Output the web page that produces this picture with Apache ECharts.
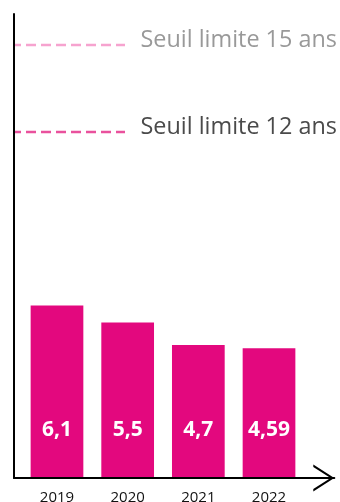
<!DOCTYPE html>
<html>
<head>
<meta charset="utf-8">
<script src="https://cdn.jsdelivr.net/npm/echarts@6/dist/echarts.min.js"></script>
<style>
  html, body { margin: 0; padding: 0; background: #fff; }
  #chart { width: 340px; height: 502px; }
</style>
</head>
<body>
<div id="chart"></div>
<script>
// Annual values shown as bars
const years = ['2019', '2020', '2021', '2022'];
const values = [6.1, 5.5, 4.7, 4.59];

// Threshold reference lines (level on the value scale)
const thresholdNames = ['Seuil limite 15 ans', 'Seuil limite 12 ans'];
const thresholdLevels = [15.3, 12.25];

const FONT = '"Open Sans", "Noto Sans", sans-serif';
const Y_MAX = 16.4;
const TOP = 14, BOTTOM = 24;

// Open chevron used as the arrow head at the end of the horizontal axis
const chevron = 'path://M0 21 L13.5 0 L27 21 L24.6 21 L13.5 3.73 L2.4 21 Z';

const chart = echarts.init(document.getElementById('chart'), null, { renderer: 'canvas' });

const fmt = v => String(v).replace('.', ',');

const gridBase = { top: TOP, bottom: BOTTOM, containLabel: false, outerBoundsMode: 'none' };

chart.setOption({
  animation: false,
  backgroundColor: '#fff',
  grid: [
    // axes frame
    Object.assign({ left: 14, right: 5.7 }, gridBase),
    // bars
    Object.assign({ left: 21.65, right: 35.65 }, gridBase),
    // threshold lines
    Object.assign({ left: 14, right: 215 }, gridBase)
  ],
  xAxis: [
    {
      gridIndex: 0, type: 'value', min: 0, max: 1, z: 10,
      axisLine: {
        show: true,
        lineStyle: { color: '#000', width: 2 },
        symbol: ['none', chevron],
        symbolSize: [27, 21],
        symbolOffset: [0, -10.5]
      },
      axisTick: { show: false }, axisLabel: { show: false }, splitLine: { show: false }
    },
    {
      gridIndex: 1, type: 'category', data: years,
      axisLine: { show: false }, axisTick: { show: false },
      axisLabel: {
        margin: 12, color: '#111', fontFamily: FONT, fontSize: 15, lineHeight: 15
      }
    },
    { gridIndex: 2, type: 'value', min: 0, max: 1, show: false }
  ],
  yAxis: [
    {
      gridIndex: 0, type: 'value', min: 0, max: Y_MAX, z: 10,
      axisLine: { show: true, lineStyle: { color: '#000', width: 2 } },
      axisTick: { show: false }, axisLabel: { show: false }, splitLine: { show: false }
    },
    { gridIndex: 1, type: 'value', min: 0, max: Y_MAX, show: false },
    { gridIndex: 2, type: 'value', min: 0, max: Y_MAX, show: false }
  ],
  series: [
    {
      type: 'bar',
      xAxisIndex: 1, yAxisIndex: 1,
      data: values,
      barWidth: 52.7,
      itemStyle: { color: '#e3087e' },
      label: {
        show: true,
        position: 'insideBottom',
        distance: 37,
        color: '#fff',
        fontFamily: FONT,
        fontWeight: 'bold',
        fontSize: 21,
        lineHeight: 21,
        formatter: p => fmt(p.value)
      }
    },
    {
      type: 'line',
      xAxisIndex: 2, yAxisIndex: 2,
      data: [],
      markLine: {
        silent: true,
        symbol: 'none',
        animation: false,
        data: [
          {
            yAxis: thresholdLevels[0],
            lineStyle: { color: '#f6a3cf', width: 2.3, type: [10, 5], dashOffset: 3 },
            label: {
              show: true, position: 'end', distance: 15.5,
              formatter: thresholdNames[0],
              color: '#999999', fontFamily: FONT, fontSize: 23.4,
              offset: [0, -5]
            }
          },
          {
            yAxis: thresholdLevels[1],
            lineStyle: { color: '#e9519d', width: 2.3, type: [10, 5], dashOffset: 3 },
            label: {
              show: true, position: 'end', distance: 15.5,
              formatter: thresholdNames[1],
              color: '#4a4a4a', fontFamily: FONT, fontSize: 23.4,
              offset: [0, -4]
            }
          }
        ]
      }
    }
  ]
});
</script>
</body>
</html>
